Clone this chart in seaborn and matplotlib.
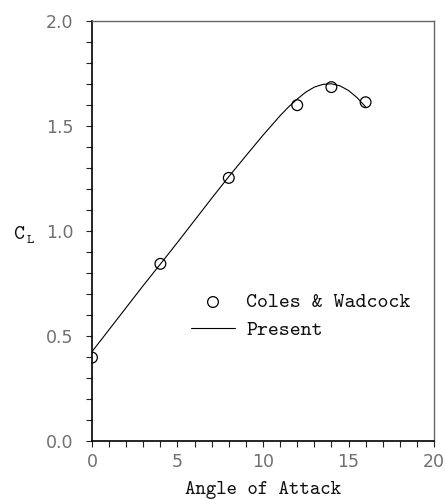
import os
import matplotlib
matplotlib.use("Agg")
import matplotlib.pyplot as plt
from matplotlib.font_manager import FontProperties
import seaborn as sns
import pandas as pd

# Experimental lift coefficients (Coles & Wadcock)
exp_alpha = [0, 4, 8, 12, 14, 16]
exp_cl = [0.397, 0.843, 1.252, 1.598, 1.684, 1.612]

# Computed lift curve (present method)
calc_alpha = [0, 1, 2, 3, 4, 5, 6, 7, 8, 9, 10, 11, 11.5, 12, 12.5, 13, 13.5, 14,
              14.5, 15, 15.5, 16]
calc_cl = [0.425, 0.53, 0.635, 0.74, 0.842, 0.945, 1.05, 1.155, 1.258, 1.357, 1.455,
           1.548, 1.59, 1.627, 1.66, 1.684, 1.697, 1.70, 1.69, 1.668, 1.634, 1.59]

x_ticks = [0, 5, 10, 15, 20]
y_ticks = [0.0, 0.5, 1.0, 1.5, 2.0]

sns.set_theme(style="ticks")
plt.rcParams["font.family"] = ["DejaVu Sans"]

tt_path = os.path.join(matplotlib.get_data_path(), "fonts", "ttf", "cmtt10.ttf")
tt_label = FontProperties(fname=tt_path, size=14.3)
tt_legend = FontProperties(fname=tt_path, size=15)
tt_c = FontProperties(fname=tt_path, size=15)

fig = plt.figure(figsize=(4.45, 5.0), dpi=100)
ax = fig.add_axes([0.2067, 0.118, 0.7686, 0.8406])

exp_df = pd.DataFrame({"alpha": exp_alpha, "cl": exp_cl})
calc_df = pd.DataFrame({"alpha": calc_alpha, "cl": calc_cl})

sns.scatterplot(data=exp_df, x="alpha", y="cl", ax=ax, marker="o", s=60,
                facecolor="none", edgecolor="black", linewidth=0.9,
                label="Coles & Wadcock", zorder=3)
sns.lineplot(data=calc_df, x="alpha", y="cl", ax=ax, color="black",
             linewidth=0.8, label="Present", zorder=2)

ax.set_xlim(0, 20)
ax.set_ylim(0, 2.0)
ax.set_xticks(x_ticks)
ax.set_xticklabels([str(v) for v in x_ticks])
ax.set_yticks(y_ticks)
ax.set_yticklabels([f"{v:.1f}" for v in y_ticks])
ax.set_xticks([i for i in range(21)], minor=True)
ax.set_yticks([i / 10 for i in range(21)], minor=True)

ax.tick_params(which="both", direction="out", length=4.5, width=0.8, color="#222222")
ax.tick_params(axis="y", which="major", pad=9)
ax.tick_params(axis="x", which="major", pad=4)
ax.tick_params(which="major", labelsize=12.5, labelcolor="#707070")

for side in ["left", "bottom"]:
    ax.spines[side].set_color("black")
    ax.spines[side].set_linewidth(1.2)
for side in ["top", "right"]:
    ax.spines[side].set_color("#666666")
    ax.spines[side].set_linewidth(1.0)

ax.set_xlabel("Angle of Attack", fontproperties=tt_label, color="#111111", labelpad=7)
ax.set_ylabel("C", fontproperties=tt_c, rotation=0, color="#111111", va="center")
ax.yaxis.set_label_coords(-0.215, 0.49)
ax.text(-0.19, 0.478, "L", transform=ax.transAxes,
        fontproperties=FontProperties(fname=tt_path, size=10), color="#111111",
        va="center")

leg = ax.legend(loc="upper left", bbox_to_anchor=(0.235, 0.397), frameon=False,
                prop=tt_legend, handlelength=2.1, handletextpad=0.55, labelspacing=0.4)
for t in leg.get_texts():
    t.set_color("#111111")

fig.savefig("out.png", dpi=100)
